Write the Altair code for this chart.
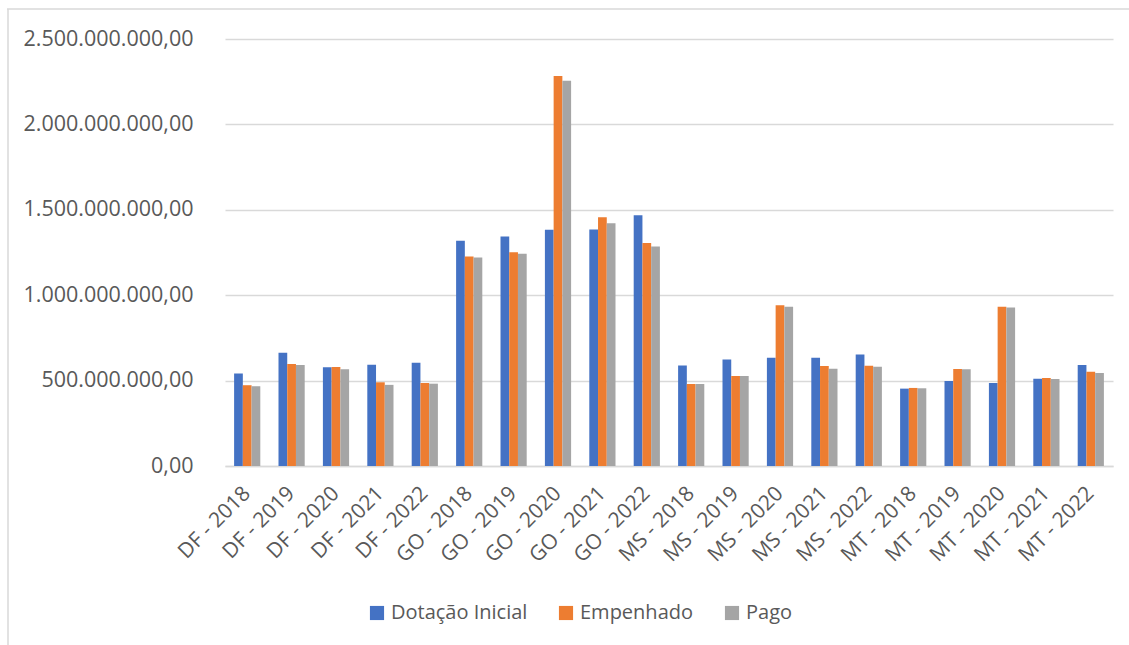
import altair as alt
import pandas as pd

categories = ["DF - 2018", "DF - 2019", "DF - 2020", "DF - 2021", "DF - 2022",
              "GO - 2018", "GO - 2019", "GO - 2020", "GO - 2021", "GO - 2022",
              "MS - 2018", "MS - 2019", "MS - 2020", "MS - 2021", "MS - 2022",
              "MT - 2018", "MT - 2019", "MT - 2020", "MT - 2021", "MT - 2022"]
series_names = ["Dotação Inicial", "Empenhado", "Pago"]
dotacao = [541e6, 663e6, 578e6, 593e6, 605e6,
           1319e6, 1344e6, 1383e6, 1385e6, 1468e6,
           589e6, 624e6, 634e6, 634e6, 653e6,
           453e6, 498e6, 486e6, 511e6, 591e6]
empenhado = [473e6, 597e6, 580e6, 490e6, 486e6,
             1227e6, 1252e6, 2283e6, 1456e6, 1305e6,
             480e6, 527e6, 941e6, 585e6, 587e6,
             457e6, 568e6, 933e6, 515e6, 552e6]
pago = [467e6, 591e6, 566e6, 475e6, 482e6,
        1221e6, 1243e6, 2256e6, 1421e6, 1285e6,
        480e6, 527e6, 933e6, 570e6, 581e6,
        455e6, 566e6, 928e6, 509e6, 544e6]
colors = ["#4472C4", "#ED7D31", "#A5A5A5"]
y_ticks = [0, 5e8, 1e9, 1.5e9, 2e9, 2.5e9]

rows = []
for s, vals in zip(series_names, [dotacao, empenhado, pago]):
    for c, v in zip(categories, vals):
        rows.append({"categoria": c, "serie": s, "valor": v})
df = pd.DataFrame(rows)

FONT = "Open Sans"
TXT = "#595959"
LEFT, TOP = 225, 39

bars = alt.Chart(df).mark_bar().encode(
    x=alt.X("categoria:N", sort=categories, title=None,
            scale=alt.Scale(paddingInner=0.41, paddingOuter=0.205),
            axis=alt.Axis(labelAngle=-45, labelFont=FONT, labelFontSize=21,
                          labelColor=TXT, ticks=False, domainColor="#D9D9D9",
                          domainWidth=1.5, labelPadding=24,
                          labelAlign="right", labelBaseline="middle")),
    xOffset=alt.XOffset("serie:N", sort=series_names),
    y=alt.Y("valor:Q", title=None,
            scale=alt.Scale(domain=[0, 2.5e9], nice=False),
            axis=alt.Axis(values=y_ticks, format=",.2f", labelFont=FONT,
                          labelFontSize=21.5, labelColor=TXT, ticks=False,
                          domain=False, gridColor="#D9D9D9", gridWidth=1.5,
                          labelPadding=32)),
    color=alt.Color("serie:N", sort=series_names,
                    scale=alt.Scale(domain=series_names, range=colors),
                    legend=alt.Legend(title=None, orient="none", legendX=142,
                                      legendY=564, direction="horizontal",
                                      symbolType="square", symbolSize=200,
                                      symbolStrokeWidth=0, labelFont=FONT,
                                      labelFontSize=20, labelColor=TXT,
                                      columnPadding=28, symbolOffset=0)),
)

frame_src = alt.Data(values=[{"k": 1}])
frame_top = alt.Chart(frame_src).mark_rule(color="#D9D9D9", strokeWidth=1.5, clip=False).encode(
    x=alt.value(7 - LEFT), x2=alt.value(1129 - LEFT), y=alt.value(9 - TOP))
frame_left = alt.Chart(frame_src).mark_rule(color="#D9D9D9", strokeWidth=1.5, clip=False).encode(
    x=alt.value(8 - LEFT), y=alt.value(9 - TOP), y2=alt.value(645 - TOP))

chart = alt.layer(bars, frame_top, frame_left).properties(
    width=888, height=427,
    autosize=alt.AutoSizeParams(type="none"),
    padding={"left": LEFT, "top": TOP, "right": 16, "bottom": 179},
).configure(
    locale={"number": {"decimal": ",", "thousands": ".", "grouping": [3],
                       "currency": ["R$", ""]}},
    background="white",
).configure_view(stroke=None)

chart.save("out.html", embed_options={"renderer": "svg", "actions": False})
